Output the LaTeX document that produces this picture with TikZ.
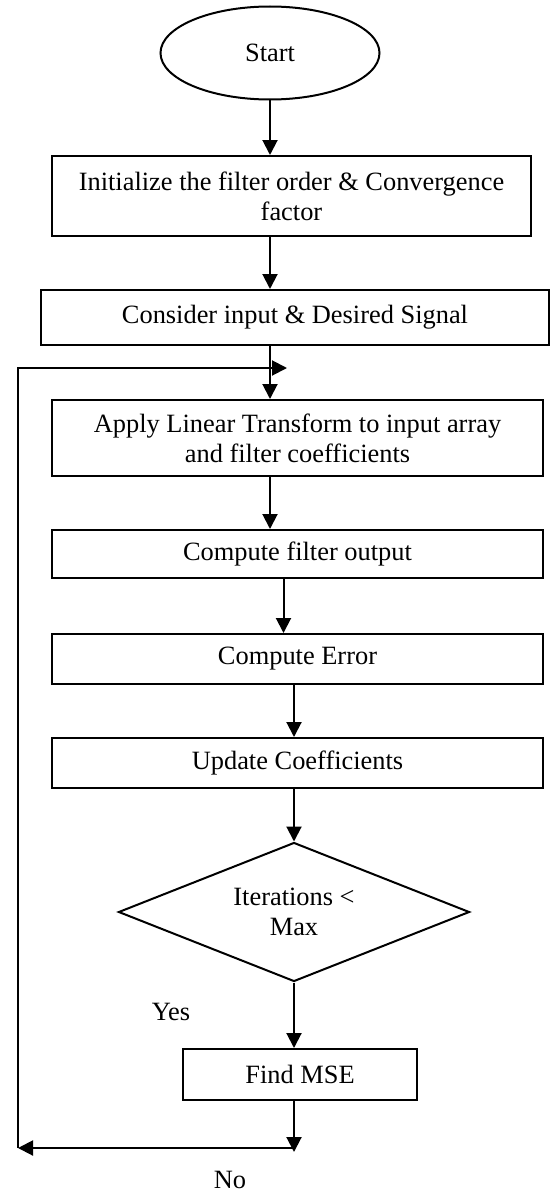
\documentclass[tikz,border=0pt]{standalone}
\usepackage{fontspec}
\setmainfont{Liberation Serif}
\usepackage{tikz}
\usetikzlibrary{positioning}
\usetikzlibrary{shapes.geometric}
\usetikzlibrary{arrows.meta}

\tikzset{
  stepbox/.style={draw, rectangle, line width=1pt, inner sep=0pt, align=center, minimum height=25pt},
  arr/.style={-{Triangle[length=7.5pt,width=7.5pt]}, line width=1pt}
}

\begin{document}
\begin{tikzpicture}[x=0.5pt, y=-0.5pt, font=\fontsize{13.2}{15}\selectfont]
                \useasboundingbox (0,0) rectangle (552,1193);

                % Nodes
                \node at (270,53) (start) [draw, ellipse, line width=1pt, minimum width=109.5pt, minimum height=46.5pt, inner sep=0pt] {Start};
                \node at (291.5,196) (init) [stepbox, minimum width=239.5pt, minimum height=40pt] {Initialize the filter order \& Convergence\\factor};
                \node at (295,317.5) (input) [stepbox, minimum width=254pt, minimum height=27.5pt] {Consider input \& Desired Signal};
                \node at (297.5,438) (transform) [stepbox, minimum width=245.5pt, minimum height=38pt] {Apply Linear Transform to input array\\and filter coefficients};
                \node at (297.5,554) (output) [stepbox, minimum width=245.5pt, minimum height=24pt] {Compute filter output};
                \node at (297.5,659) (error) [stepbox, minimum width=245.5pt] {Compute Error};
                \node at (297.5,763) (update) [stepbox, minimum width=245.5pt] {Update Coefficients};
                \node at (294,912) (check) [draw, diamond, aspect=2.5, line width=1pt, minimum width=175.5pt, minimum height=69.5pt, inner sep=0pt, align=center] {Iterations <\\Max};
                \node at (300,1074.5) (mse) [stepbox, minimum width=117pt, minimum height=25.5pt] {Find MSE};
                \node at (171,1012) (yes) {Yes};
                \node at (230,1180) (no) {No};

                % Loop corners
                \coordinate (nojoin) at (294,1152);
                \coordinate (loopsw) at (18,1148);
                \coordinate (loopnw) at (18,368);
                \coordinate (loopne) at (287,368);

                % Arrows
                \draw[arr] (start) -- (start |- init.north);
                \draw[arr] (init.south -| start) -- (input.north -| start);
                \draw[arr] (input.south -| start) -- (transform.north -| start);
                \draw[arr] (transform.south -| start) -- (output.north -| start);
                \draw[arr] ([xshift=-7pt]output.south) -- ([xshift=-7pt]error.north);
                \draw[arr] (error.south -| check) -- (update.north -| check);
                \draw[arr] (update.south -| check) -- (check.north);
                \draw[arr] (check.south) -- (mse.north -| check);
                \draw[arr] (mse.south -| check) -- (nojoin);
                \draw[arr] (loopsw -| nojoin) -- (loopsw);
                \draw[arr] (loopsw) -- (loopnw) -- (loopne);

\end{tikzpicture}
\end{document}
